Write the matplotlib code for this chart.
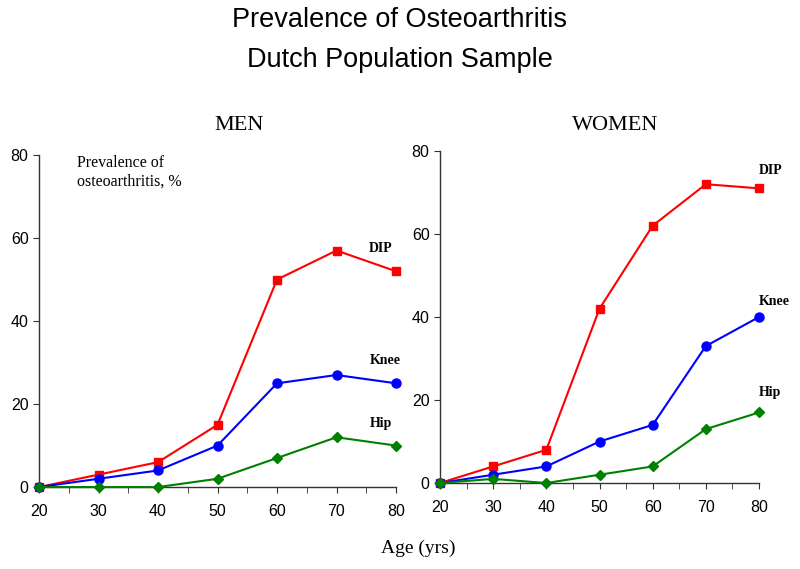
import numpy as np
import matplotlib.pyplot as plt
from matplotlib.ticker import MultipleLocator

# edades (eje x)
edad = [20, 30, 40, 50, 60, 70, 80]

# HOMBRES
men_dip = [0, 3, 6, 15, 50, 57, 52]
men_knee = [0, 2, 4, 10, 25, 27, 25]
men_hip = [0, 0, 0, 2, 7, 12, 10]

# MUJERES
women_dip = [0, 4, 8, 42, 62, 72, 71]
women_knee = [0, 2, 4, 10, 14, 33, 40]
women_hip = [0, 1, 0, 2, 4, 13, 17]

sans = 'Liberation Sans'
serif = 'Liberation Serif'

fig = plt.figure(figsize=(8, 5.69), dpi=100)
ax1 = fig.add_axes([0.04875, 0.144, 0.44625, 0.5835])
ax2 = fig.add_axes([0.55, 0.1511, 0.39875, 0.5835])


def panel(ax, dip, knee, hip):
    ax.plot(edad, dip, color='#ff0000', marker='s', ms=6, lw=1.5, clip_on=False, zorder=3)
    ax.plot(edad, knee, color='#0000ff', marker='o', ms=6.5, lw=1.5, clip_on=False, zorder=3)
    ax.plot(edad, hip, color='#008000', marker='D', ms=5, lw=1.5, clip_on=False, zorder=3)
    ax.set_xlim(20, 80)
    ax.set_ylim(0, 80)
    ax.set_xticks(edad)
    ax.set_yticks([0, 20, 40, 60, 80])
    ax.xaxis.set_minor_locator(MultipleLocator(5))
    for s in ['top', 'right']:
        ax.spines[s].set_visible(False)
    for s in ['left', 'bottom']:
        ax.spines[s].set_color('#333333')
        ax.spines[s].set_linewidth(1)
    ax.tick_params(axis='both', which='both', direction='out', length=4, color='#333333')
    ax.tick_params(axis='x', pad=8)
    for lab in ax.get_xticklabels() + ax.get_yticklabels():
        lab.set_family(sans)
        lab.set_fontsize(11.5)


panel(ax1, men_dip, men_knee, men_hip)
panel(ax2, women_dip, women_knee, women_hip)

# etiquetas de las curvas
lab = dict(fontsize=10, fontweight='bold', family=serif, ha='left', va='center')
ax1.text(75.5, 57.4, 'DIP', **lab)
ax1.text(75.6, 30.4, 'Knee', **lab)
ax1.text(75.6, 15.2, 'Hip', **lab)
ax2.text(80, 75.3, 'DIP', **lab)
ax2.text(80, 43.7, 'Knee', **lab)
ax2.text(80, 21.9, 'Hip', **lab)

ax1.text(26.4, 80, 'Prevalence of\nosteoarthritis, %', family=serif, fontsize=11.5,
         ha='left', va='top', linespacing=1.2)

# titulos
fig.text(0.5, 1 - 20 / 569, 'Prevalence of Osteoarthritis', family=sans, fontsize=19.5,
         ha='center', va='center')
fig.text(0.5, 1 - 60 / 569, 'Dutch Population Sample', family=sans, fontsize=19.5,
         ha='center', va='center')
fig.text(239 / 800, 1 - 125 / 569, 'MEN', family=serif, fontsize=16, ha='center', va='center')
fig.text(615 / 800, 1 - 125 / 569, 'WOMEN', family=serif, fontsize=16, ha='center', va='center')
fig.text(418 / 800, 1 - 548 / 569, 'Age (yrs)', family=serif, fontsize=14, ha='center', va='center')

fig.savefig('out.png', dpi=100)
